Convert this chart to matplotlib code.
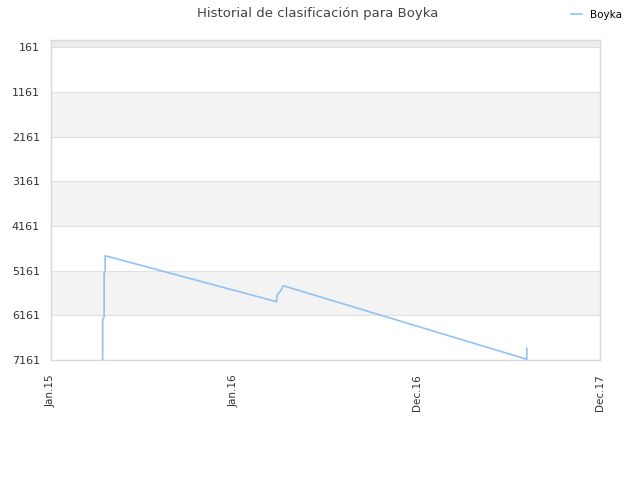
import matplotlib
matplotlib.use("Agg")
import matplotlib.pyplot as plt
import numpy as np

# dias desde 1 de janeiro de 2015 e posicao no ranking
dias = [103, 103, 106, 106, 108, 108, 450, 451, 459, 463, 949, 949]
posicao = [7161, 6244, 6200, 5209, 5190, 4828, 5857, 5707, 5595, 5499, 7145, 6899]

ticks_y = [161, 1161, 2161, 3161, 4161, 5161, 6161, 7161]
ticks_x = [0, 365, 730, 1095]
rotulos_x = ["Jan.15", "Jan.16", "Dec.16", "Dec.17"]

cor_linha = "#90c3f5"
cor_texto = "#333333"

fig = plt.figure(figsize=(6.4, 4.8), dpi=100)
ax = fig.add_axes([0.0797, 0.25, 0.8578, 0.6667])

# faixas alternadas no fundo
ax.axhspan(1, 161, color="#ededed", zorder=0, lw=0)
for i in range(len(ticks_y) - 1):
    if i % 2 == 1:
        ax.axhspan(ticks_y[i], ticks_y[i + 1], color="#f3f3f3", zorder=0, lw=0)
for t in ticks_y:
    ax.axhline(t, color="#e0e0e0", lw=0.8, zorder=1)

ax.plot(dias, posicao, color=cor_linha, lw=1.2, label="Boyka", zorder=3)

ax.set_xlim(0, 1095)
ax.set_ylim(7161, 1)
ax.set_yticks(ticks_y)
ax.set_yticklabels([str(t) for t in ticks_y], fontsize=8, color=cor_texto)
ax.set_xticks(ticks_x)
ax.set_xticklabels(rotulos_x, rotation=90, fontsize=7.5, color=cor_texto)
ax.tick_params(axis="y", length=0, pad=8)
ax.tick_params(axis="x", length=0, pad=10)
for s in ax.spines.values():
    s.set_color("#d8d8d8")
    s.set_linewidth(1)

fig.text(0.497, 0.972, "Historial de clasificación para Boyka", ha="center", va="center",
         fontsize=9.5, color="#444444")
fig.legend(loc="center", bbox_to_anchor=(0.932, 0.969), frameon=False, fontsize=7.5,
           handlelength=1.0, handletextpad=0.8)

fig.savefig("out.png", dpi=100)
